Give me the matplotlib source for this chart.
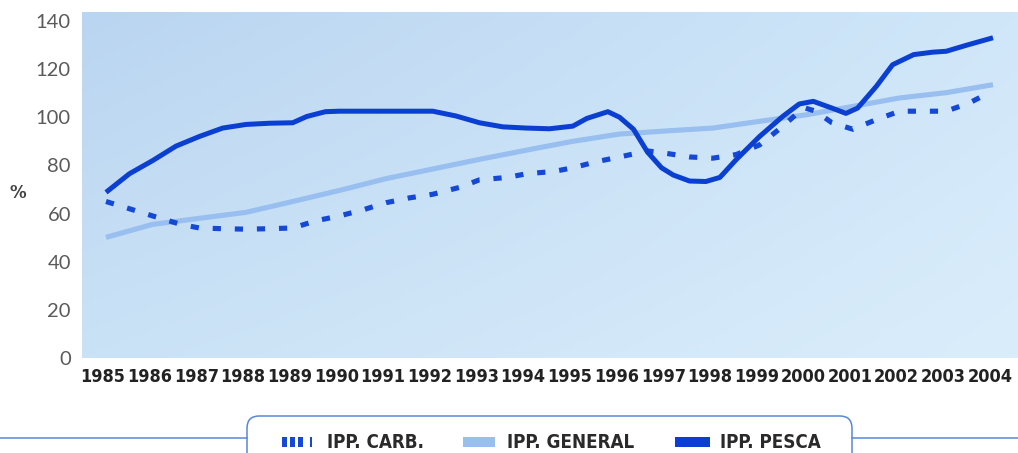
import numpy as np
import matplotlib
matplotlib.use("Agg")
import matplotlib.pyplot as plt
from matplotlib.patches import Rectangle, FancyBboxPatch
from matplotlib.lines import Line2D
from matplotlib.transforms import ScaledTranslation

# years shown on the x axis
years = list(range(1985, 2005))

# IPP. PESCA (solid dark blue)
pesca_x = [1985.0, 1985.5, 1986.0, 1986.5, 1987.0, 1987.5, 1988.0, 1988.5, 1989.0,
           1989.3, 1989.7, 1990.0, 1992.0, 1992.5, 1993.0, 1993.5, 1994.0, 1994.5,
           1995.0, 1995.3, 1995.75, 1996.0, 1996.3, 1996.6, 1996.9, 1997.15, 1997.5,
           1997.85, 1998.15, 1998.5, 1999.0, 1999.5, 1999.85, 2000.15, 2000.55,
           2000.85, 2001.1, 2001.5, 2001.85, 2002.3, 2002.7, 2003.0, 2003.45, 2004.0]
pesca_y = [68.8, 76.5, 82.0, 88.0, 92.0, 95.5, 97.0, 97.5, 97.7,
           100.3, 102.3, 102.5, 102.5, 100.5, 97.7, 96.0, 95.5, 95.2,
           96.3, 99.5, 102.3, 100.0, 95.0, 85.5, 79.0, 76.0, 73.5,
           73.3, 75.0, 82.4, 92.0, 100.4, 105.5, 106.6, 103.8,
           101.6, 103.8, 112.8, 121.8, 126.0, 127.0, 127.4, 130.0, 133.0]

# IPP. GENERAL (light blue)
general_y = [50.1, 55.5, 58.0, 60.5, 65.0, 69.6, 74.5, 78.5, 82.5, 86.3,
             90.0, 93.0, 94.3, 95.5, 98.3, 101.0, 104.5, 108.0, 110.2, 113.5]

# IPP. CARB. (dashed)
carb_x = [1985.0, 1985.5, 1986.0, 1986.6, 1987.0, 1987.5, 1988.0, 1988.5, 1989.0,
          1989.5, 1990.0, 1990.5, 1991.0, 1991.5, 1992.0, 1992.6, 1993.0, 1993.6,
          1994.0, 1994.6, 1995.0, 1995.5, 1996.0, 1996.6, 1997.0, 1997.5, 1998.0,
          1998.5, 1999.0, 1999.45, 1999.95, 2000.2, 2000.55, 2001.0, 2001.5,
          2002.0, 2003.0, 2003.5, 2003.85]
carb_y = [65.0, 62.0, 59.0, 55.5, 54.0, 53.7, 53.5, 53.7, 54.0,
          57.0, 59.0, 61.5, 64.5, 66.5, 68.0, 71.0, 74.0, 75.0,
          76.5, 77.5, 79.0, 81.5, 83.5, 86.0, 85.0, 83.5, 83.0,
          84.5, 88.5, 95.5, 104.0, 102.5, 97.7, 95.0, 99.0,
          102.5, 102.5, 106.0, 109.5]

legend_labels = ["IPP. CARB.", "IPP. GENERAL", "IPP. PESCA"]

DARK = "#0b3fd2"
CARB = "#1548d6"
LIGHT = "#98bfef"

W, H = 1018, 453
fig = plt.figure(figsize=(W / 100, H / 100), dpi=100)
fig.patch.set_facecolor("white")

ax = fig.add_axes([82 / W, (H - 358) / H, (W - 82) / W, (358 - 12) / H])
ax.set_xlim(1984.486, 2004.536)
ax.set_ylim(0, 143.7)

# soft blue gradient background
tl = np.array([186, 213, 241]) / 255
tr = np.array([208, 231, 249]) / 255
bl = np.array([202, 226, 246]) / 255
br = np.array([218, 237, 251]) / 255
u = np.linspace(0, 1, 200)[None, :, None]
v = np.linspace(0, 1, 100)[:, None, None]
grad = (1 - v) * ((1 - u) * tl + u * tr) + v * ((1 - u) * bl + u * br)
ax.imshow(grad, extent=[0, 1, 0, 1], transform=ax.transAxes, aspect="auto",
          origin="upper", zorder=0)

ax.plot(years, general_y, color=LIGHT, lw=3.7, solid_capstyle="butt", zorder=2)
ax.plot(carb_x, carb_y, color=CARB, lw=3.7, linestyle=(0, (1.6, 2.7)),
        dash_capstyle="butt", zorder=3)
ax.plot(pesca_x, pesca_y, color=DARK, lw=3.6, solid_capstyle="butt",
        solid_joinstyle="round", zorder=4)

for s in ax.spines.values():
    s.set_visible(False)

ax.set_yticks(range(0, 141, 20))
ax.set_xticks(years)
ax.tick_params(axis="both", length=0)
ax.tick_params(axis="y", pad=8)
ax.tick_params(axis="x", pad=7)
for lab in ax.get_yticklabels():
    lab.set_fontfamily("Lato")
    lab.set_fontsize(14.5)
    lab.set_color("#5a5a5a")
shift = ScaledTranslation(-3 / 100, 0, fig.dpi_scale_trans)
for lab in ax.get_xticklabels():
    lab.set_fontfamily("DejaVu Sans")
    lab.set_fontstretch("condensed")
    lab.set_fontweight("bold")
    lab.set_fontsize(13)
    lab.set_color("#222222")
    lab.set_transform(lab.get_transform() + shift)

fig.text(18 / W, 1 - 193 / H, "%", ha="center", va="center", fontsize=12,
         fontweight="bold", color="#444444", family="DejaVu Sans")

# legend frame: rounded tab with a rule running off both sides
edge = "#5b86d8"
def fx(px):
    return px / W
def fy(py):
    return 1 - py / H

fig.add_artist(Line2D([0, fx(247)], [fy(438), fy(438)], color=edge, lw=1.1))
fig.add_artist(Line2D([fx(852), 1], [fy(438), fy(438)], color=edge, lw=1.1))
box = FancyBboxPatch((fx(247), fy(480)), fx(852) - fx(247), fy(416) - fy(480),
                     boxstyle="round,pad=0,rounding_size=0.012",
                     transform=fig.transFigure, facecolor="white",
                     edgecolor=edge, lw=1.1, mutation_aspect=W / H)
fig.add_artist(box)

# legend keys
for x0, x1 in [(282, 287), (290, 295), (298, 303), (310, 312)]:
    fig.add_artist(Rectangle((fx(x0), fy(447)), fx(x1) - fx(x0), fy(437) - fy(447),
                             transform=fig.transFigure, color=CARB, lw=0))
fig.add_artist(Rectangle((fx(463), fy(447)), fx(495) - fx(463), fy(437) - fy(447),
                         transform=fig.transFigure, color=LIGHT, lw=0))
fig.add_artist(Rectangle((fx(675), fy(447)), fx(710) - fx(675), fy(437) - fy(447),
                         transform=fig.transFigure, color=DARK, lw=0))

for xpos, txt in zip([327, 507, 720], legend_labels):
    fig.text(fx(xpos), fy(442), txt, ha="left", va="center", fontsize=13.5,
             fontweight="bold", color="#2a2a2a", family="DejaVu Sans",
             stretch="condensed")

fig.savefig("out.png", dpi=100)
